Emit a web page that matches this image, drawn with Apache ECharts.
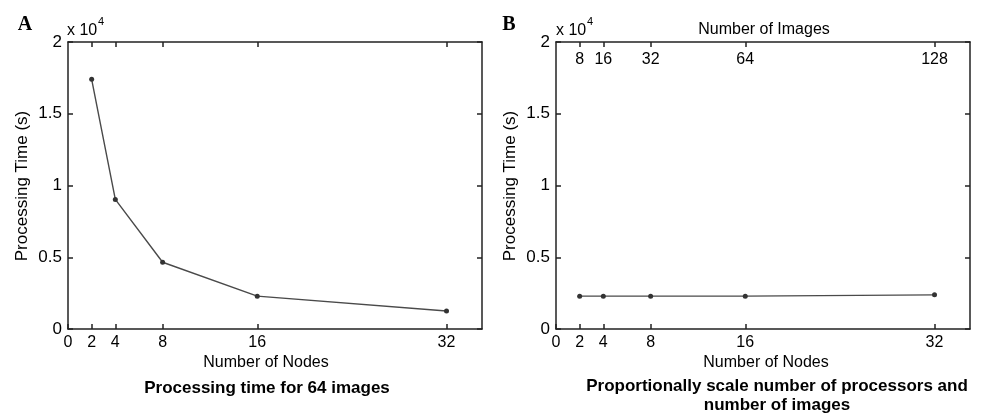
<!DOCTYPE html>
<html>
<head>
<meta charset="utf-8">
<script src="https://cdn.jsdelivr.net/npm/echarts@6/dist/echarts.min.js"></script>
<style>
html,body{margin:0;padding:0;background:#fff;}
#chart{width:984px;height:414px;}
</style>
</head>
<body>
<div id="chart"></div>
<script>
// ---- data ----
var nodeTicks = [0, 2, 4, 8, 16, 32];
var nodesA = [2, 4, 8, 16, 32];
var timeA = [17400, 9030, 4650, 2290, 1250];      // seconds, 64 images
var nodesB = [2, 4, 8, 16, 32];
var timeB = [2290, 2290, 2290, 2290, 2380];       // seconds, proportional scaling
var imageTickNodes = [2, 4, 8, 16, 32];
var imageTickLabels = ['8', '16', '32', '64', '128'];

var FONT = 'Liberation Sans, Arial, sans-serif';
var AX = '#222';
var TXT = '#000';

function pairs(xs, ys) {
  return xs.map(function (x, i) { return [x, ys[i] / 1e4]; });
}

function bottomAxis(gi) {
  return {
    type: 'value', gridIndex: gi, position: 'bottom', min: 0, max: 35,
    axisLine: { show: true, lineStyle: { color: AX, width: 1.5 } },
    axisTick: { show: true, inside: true, length: 5, customValues: nodeTicks, lineStyle: { color: AX, width: 1.5 } },
    axisLabel: { show: true, customValues: nodeTicks, margin: 6, color: TXT, fontFamily: FONT, fontSize: 16 },
    splitLine: { show: false }
  };
}
function topAxis(gi, withLabels) {
  return {
    type: 'value', gridIndex: gi, position: 'top', min: 0, max: 35,
    axisLine: { show: true, onZero: false, lineStyle: { color: AX, width: 1.5 } },
    axisTick: { show: true, inside: true, length: 5, customValues: imageTickNodes, lineStyle: { color: AX, width: 1.5 } },
    axisLabel: {
      show: withLabels, inside: true, customValues: imageTickNodes, margin: 10,
      color: TXT, fontFamily: FONT, fontSize: 16,
      formatter: function (v) { var i = imageTickNodes.indexOf(v); return i >= 0 ? imageTickLabels[i] : ''; }
    },
    splitLine: { show: false }
  };
}
function leftAxis(gi) {
  return {
    type: 'value', gridIndex: gi, position: 'left', min: 0, max: 2, interval: 0.5,
    axisLine: { show: true, onZero: false, lineStyle: { color: AX, width: 1.5 } },
    axisTick: { show: true, inside: true, length: 5, lineStyle: { color: AX, width: 1.5 } },
    axisLabel: { show: true, margin: 6, color: TXT, fontFamily: FONT, fontSize: 17 },
    splitLine: { show: false }
  };
}
function rightAxis(gi) {
  return {
    type: 'value', gridIndex: gi, position: 'right', min: 0, max: 2, interval: 0.5,
    axisLine: { show: true, onZero: false, lineStyle: { color: AX, width: 1.5 } },
    axisTick: { show: true, inside: true, length: 5, lineStyle: { color: AX, width: 1.5 } },
    axisLabel: { show: false },
    splitLine: { show: false }
  };
}
function lineSeries(xi, yi, data) {
  return {
    type: 'line', xAxisIndex: xi, yAxisIndex: yi, data: data,
    symbol: 'circle', symbolSize: 5, showSymbol: true,
    lineStyle: { color: '#4a4a4a', width: 1.4 },
    itemStyle: { color: '#333' },
    emphasis: { disabled: true }, animation: false
  };
}

function txt(x, y, s, size, opts) {
  opts = opts || {};
  return {
    type: 'text', x: x, y: y, rotation: opts.rotation || 0,
    style: {
      text: s, fill: TXT, fontFamily: opts.family || FONT, fontSize: size,
      fontWeight: opts.weight || 'normal', textAlign: opts.align || 'center', textVerticalAlign: 'middle'
    }
  };
}

var chart = echarts.init(document.getElementById('chart'), null, { renderer: 'canvas' });
chart.setOption({
  animation: false,
  backgroundColor: '#fff',
  grid: [
    { left: 68, top: 42, width: 414, height: 287 },
    { left: 556, top: 42, width: 414, height: 287 }
  ],
  xAxis: [bottomAxis(0), topAxis(0, false), bottomAxis(1), topAxis(1, true)],
  yAxis: [leftAxis(0), rightAxis(0), leftAxis(1), rightAxis(1)],
  series: [
    lineSeries(0, 0, pairs(nodesA, timeA)),
    lineSeries(2, 2, pairs(nodesB, timeB))
  ],
  graphic: [
    txt(25, 25, 'A', 20, { family: 'Liberation Serif, Times New Roman, serif', weight: 'bold' }),
    txt(509, 25, 'B', 20, { family: 'Liberation Serif, Times New Roman, serif', weight: 'bold' }),
    txt(67, 31, 'x 10', 16, { align: 'left' }),
    txt(98, 22, '4', 11, { align: 'left' }),
    txt(556, 31, 'x 10', 16, { align: 'left' }),
    txt(587, 22, '4', 11, { align: 'left' }),
    txt(22, 186, 'Processing Time (s)', 17, { rotation: Math.PI / 2 }),
    txt(510, 186, 'Processing Time (s)', 17, { rotation: Math.PI / 2 }),
    txt(266, 363, 'Number of Nodes', 16),
    txt(766, 363, 'Number of Nodes', 16),
    txt(764, 30, 'Number of Images', 16),
    txt(267, 388, 'Processing time for 64 images', 17, { weight: 'bold' }),
    txt(777, 386, 'Proportionally scale number of processors and', 17, { weight: 'bold' }),
    txt(777, 405, 'number of images', 17, { weight: 'bold' })
  ]
});
</script>
</body>
</html>
